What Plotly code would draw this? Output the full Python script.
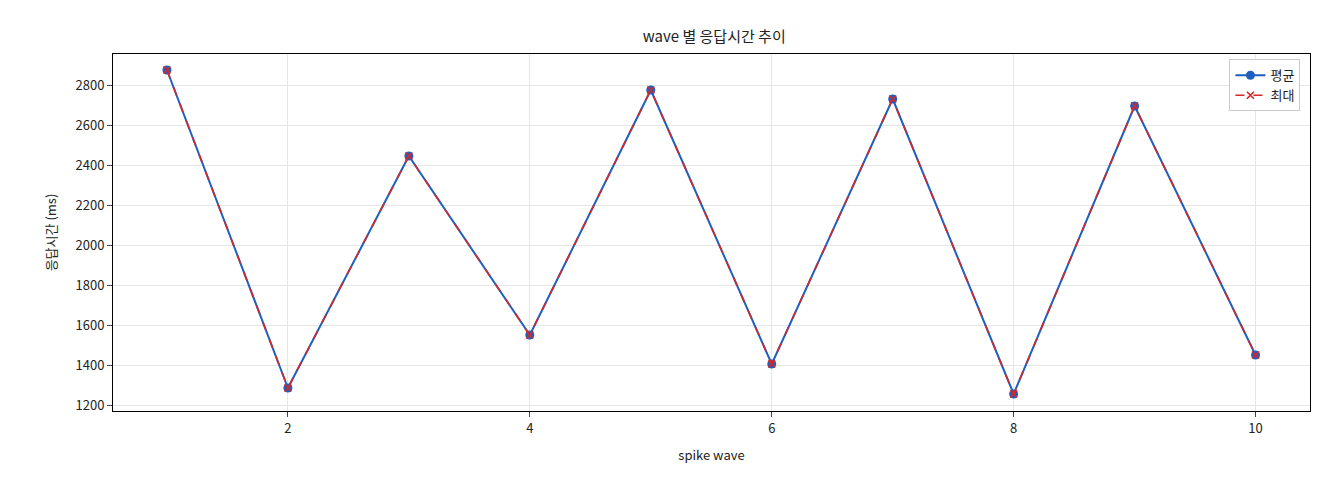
import plotly.graph_objects as go

waves = [1, 2, 3, 4, 5, 6, 7, 8, 9, 10]
avg_ms = [2875, 1285, 2445, 1550, 2775, 1405, 2730, 1255, 2695, 1450]
max_ms = [2875, 1285, 2445, 1550, 2775, 1405, 2730, 1255, 2695, 1450]

font = "Noto Sans CJK KR"
fig = go.Figure()
fig.add_trace(go.Scatter(x=waves, y=avg_ms, name="평균", mode="lines+markers",
                         line=dict(color="#1f5fbf", width=2), marker=dict(size=9, color="#1f5fbf")))
fig.add_trace(go.Scatter(x=waves, y=max_ms, name="최대", mode="lines+markers",
                         line=dict(color="#d62728", width=1.6, dash="dash"),
                         marker=dict(symbol="x-thin", size=7, color="#d62728", line=dict(width=1.6, color="#d62728"))))
fig.update_layout(
    width=1320, height=480, paper_bgcolor="white", plot_bgcolor="white",
    font=dict(family=font, size=13, color="#222"),
    title=dict(text="wave 별 응답시간 추이", x=0.535, xanchor="center", y=0.94, yanchor="middle", font=dict(size=15)),
    margin=dict(l=105, r=18, t=46, b=77, autoexpand=False),
    legend=dict(x=0.992, y=0.985, xanchor="right", yanchor="top", bordercolor="#ccc", borderwidth=1,
                bgcolor="rgba(255,255,255,0.9)"),
    xaxis=dict(title=dict(text="spike wave", font=dict(size=13)), range=[0.554, 10.45], tickvals=[2, 4, 6, 8, 10],
               showgrid=True, gridcolor="#e6e6e6", showline=True, mirror=True, linecolor="black",
               ticks="outside", zeroline=False, automargin=False),
    yaxis=dict(title=dict(text="응답시간 (ms)", font=dict(size=13)), range=[1170, 2955], dtick=200,
               showgrid=True, gridcolor="#e6e6e6", showline=True, mirror=True, linecolor="black",
               ticks="outside", zeroline=False, automargin=False),
)
fig.write_html("out.html")
